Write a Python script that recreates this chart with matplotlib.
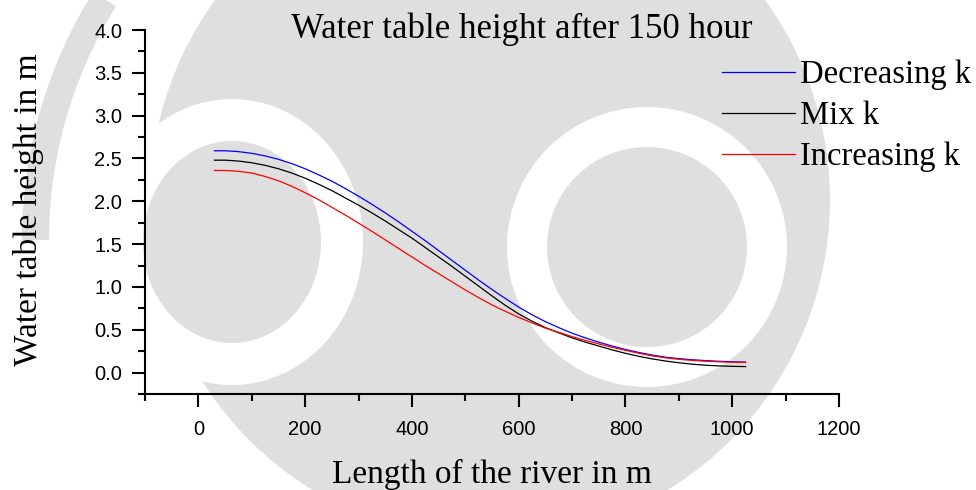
import matplotlib
matplotlib.use("Agg")
import matplotlib.pyplot as plt
from matplotlib.patches import Circle, Ellipse, Wedge
from matplotlib.ticker import MultipleLocator

# river length (m)
length = [30, 50, 75, 100, 125, 150, 175, 200, 225, 250, 275, 300, 325, 350,
          375, 400, 425, 450, 475, 500, 525, 550, 575, 600, 625, 650, 675,
          700, 725, 750, 775, 800, 825, 850, 875, 900, 925, 950, 975, 1000, 1025]

# water table height (m) after 150 hour
decreasing_k = [2.59, 2.59, 2.58, 2.56, 2.53, 2.49, 2.44, 2.38, 2.31, 2.235, 2.15,
                2.06, 1.965, 1.865, 1.76, 1.65, 1.54, 1.425, 1.31, 1.195, 1.08,
                0.97, 0.865, 0.765, 0.675, 0.595, 0.525, 0.46, 0.405, 0.355,
                0.31, 0.27, 0.235, 0.205, 0.18, 0.163, 0.15, 0.14, 0.132, 0.126, 0.122]
mix_k = [2.48, 2.48, 2.47, 2.45, 2.42, 2.38, 2.33, 2.27, 2.20, 2.125, 2.04,
         1.955, 1.865, 1.77, 1.67, 1.57, 1.46, 1.35, 1.24, 1.125, 1.01,
         0.895, 0.785, 0.685, 0.60, 0.525, 0.465, 0.405, 0.355, 0.31,
         0.265, 0.225, 0.19, 0.16, 0.135, 0.115, 0.098, 0.086, 0.078, 0.073, 0.07]
increasing_k = [2.36, 2.36, 2.35, 2.33, 2.29, 2.24, 2.175, 2.10, 2.02, 1.93, 1.84,
                1.745, 1.65, 1.55, 1.45, 1.35, 1.25, 1.155, 1.06, 0.965, 0.875,
                0.79, 0.715, 0.645, 0.58, 0.52, 0.47, 0.42, 0.375, 0.335,
                0.295, 0.26, 0.225, 0.195, 0.172, 0.155, 0.142, 0.133, 0.126, 0.121, 0.118]

W, H = 976, 490
fig = plt.figure(figsize=(W / 100, H / 100), dpi=100)
fig.patch.set_facecolor("white")

# faint watermark behind the plot
bg = fig.add_axes([0, 0, 1, 1], zorder=-1)
bg.set_xlim(0, W)
bg.set_ylim(H, 0)
bg.axis("off")
grey = "#dfdfdf"
bg.add_patch(Circle((490, 200), 340, color=grey, lw=0))
bg.add_patch(Ellipse((232, 242), 262, 286, color="white", lw=0))
bg.add_patch(Ellipse((232, 242), 178, 202, color=grey, lw=0))
bg.add_patch(Circle((647, 247), 140, color="white", lw=0))
bg.add_patch(Circle((647, 247), 100, color=grey, lw=0))
bg.add_patch(Wedge((490, 240), 468, 180, 212, width=27, color=grey, lw=0))

ax = fig.add_axes([145 / W, 1 - 394 / H, 694 / W, 364 / H])
ax.set_facecolor("none")

ax.plot(length, decreasing_k, color="blue", lw=0.9, label="Decreasing k")
ax.plot(length, mix_k, color="black", lw=0.9, label="Mix k")
ax.plot(length, increasing_k, color="red", lw=0.9, label="Increasing k")

ax.set_xlim(-100, 1200)
ax.set_ylim(-0.25, 4.0)
ax.xaxis.set_minor_locator(MultipleLocator(100))
ax.yaxis.set_minor_locator(MultipleLocator(0.25))
ax.set_xticks([0, 200, 400, 600, 800, 1000, 1200])
ax.set_yticks([0.0, 0.5, 1.0, 1.5, 2.0, 2.5, 3.0, 3.5, 4.0])
ax.set_yticklabels(["%.1f" % v for v in ax.get_yticks()])

for s in ["top", "right"]:
    ax.spines[s].set_visible(False)
for s in ["left", "bottom"]:
    ax.spines[s].set_linewidth(1.5)

ax.tick_params(which="major", direction="out", length=9.5, width=1.5,
               labelsize=14.5, pad=7)
ax.tick_params(which="minor", direction="out", length=5, width=1.5)
ax.tick_params(axis="x", which="major", pad=9)
for lab in ax.get_xticklabels() + ax.get_yticklabels():
    lab.set_fontfamily("Liberation Sans")

serif = "Liberation Serif"
fig.text(522 / W, 1 - 38 / H, "Water table height after 150 hour",
         ha="center", va="baseline", fontsize=25, family=serif)
ax.set_xlabel("Length of the river in m", fontsize=24, family=serif)
ax.xaxis.set_label_coords(0.5, -0.178)
ax.set_ylabel("Water table height in m", fontsize=24, family=serif)
ax.yaxis.set_label_coords(-0.145, 0.505)

ax.legend(loc="upper left", bbox_to_anchor=(722 / W, 1 - 60 / H),
          bbox_transform=fig.transFigure, frameon=False, borderpad=0,
          borderaxespad=0, handlelength=2.25, handletextpad=0.15,
          labelspacing=0.32, prop={"family": serif, "size": 23.5})

fig.savefig("out.png", dpi=100, facecolor="white")
